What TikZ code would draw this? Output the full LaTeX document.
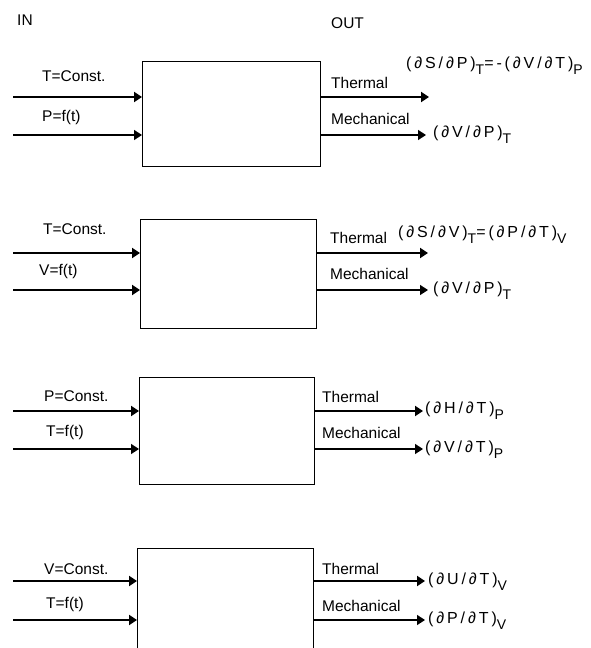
\documentclass[tikz,border=0pt]{standalone}
\usepackage{fontspec}
\setmainfont{Liberation Sans}
\newfontfamily\derivfont[LetterSpace=18]{Liberation Sans}
\usetikzlibrary{arrows.meta}
% lowered subscript as used in the derivative labels
\newcommand\lowsub[1]{\raisebox{-6pt}{\fontsize{14}{14}\selectfont #1}}
\tikzset{
  blk/.style={draw, line width=1.2pt, anchor=north west, inner sep=0pt},
  lbl/.style={font=\fontsize{15.5}{17}\selectfont, anchor=west, inner sep=0pt},
  frm/.style={font=\derivfont\fontsize{16}{18}\selectfont, anchor=west, inner sep=0pt},
  thick line/.style={line width=1.9pt, -{Triangle[length=8pt,width=10pt]}},
  thin line/.style={line width=1.4pt, -{Triangle[length=8pt,width=10pt]}},
}
\begin{document}
\begin{tikzpicture}[x=1pt,y=-1pt]
\useasboundingbox (0,0) rectangle (590,648);
\clip (0,0) rectangle (590,648);

\node[lbl] (in) at (17,20) {IN};
\node[lbl] (out) at (331,23) {OUT};

% ---- block 1 ----
\node[blk, minimum width=178pt, minimum height=105pt] (b1) at (142,61) {};
\coordinate (s1a) at (13,97);  \coordinate (s1b) at (13,135);
\coordinate (e1a) at (429,97); \coordinate (e1b) at (426,135);
\draw[thick line] (s1a) -- (s1a -| b1.west);
\draw[thin line]  (s1b) -- (s1b -| b1.west);
\draw[thick line] (b1.east |- e1a) -- (e1a);
\draw[thin line]  (b1.east |- e1b) -- (e1b);
\node[lbl] (l1a) at (42,76) {T=Const.};
\node[lbl] (l1b) at (42,117) {P=f(t)};
\node[lbl] (t1) at (331,83) {Thermal};
\node[lbl] (m1) at (331,119) {Mechanical};
\node[frm] (f1a) at (406,66) {(∂S/∂P)\lowsub{T}=-(∂V/∂T)\lowsub{P}};
\node[frm] (f1b) at (433,135) {(∂V/∂P)\lowsub{T}};

% ---- block 2 ----
\node[blk, minimum width=176pt, minimum height=109pt] (b2) at (140,219) {};
\coordinate (s2a) at (13,253);  \coordinate (s2b) at (13,290);
\coordinate (e2a) at (428,253); \coordinate (e2b) at (428,290);
\draw[thick line] (s2a) -- (s2a -| b2.west);
\draw[thick line] (s2b) -- (s2b -| b2.west);
\draw[thick line] (b2.east |- e2a) -- (e2a);
\draw[thin line]  (b2.east |- e2b) -- (e2b);
\node[lbl] (l2a) at (43,229) {T=Const.};
\node[lbl] (l2b) at (39,271) {V=f(t)};
\node[lbl] (t2) at (330,238) {Thermal};
\node[lbl] (m2) at (330,274) {Mechanical};
\node[frm] (f2a) at (398,235) {(∂S/∂V)\lowsub{T}=(∂P/∂T)\lowsub{V}};
\node[frm] (f2b) at (433,291) {(∂V/∂P)\lowsub{T}};

% ---- block 3 ----
\node[blk, minimum width=175pt, minimum height=107pt] (b3) at (139,377) {};
\coordinate (s3a) at (13,411);  \coordinate (s3b) at (13,449);
\coordinate (e3a) at (423,411); \coordinate (e3b) at (423,449);
\draw[thick line] (s3a) -- (s3a -| b3.west);
\draw[thin line]  (s3b) -- (s3b -| b3.west);
\draw[thick line] (b3.east |- e3a) -- (e3a);
\draw[thin line]  (b3.east |- e3b) -- (e3b);
\node[lbl] (l3a) at (44,396) {P=Const.};
\node[lbl] (l3b) at (46,432) {T=f(t)};
\node[lbl] (t3) at (322,397) {Thermal};
\node[lbl] (m3) at (322,433) {Mechanical};
\node[frm] (f3a) at (425,411) {(∂H/∂T)\lowsub{P}};
\node[frm] (f3b) at (425,450) {(∂V/∂T)\lowsub{P}};

% ---- block 4 (runs past the lower edge) ----
\node[blk, minimum width=176pt, minimum height=130pt] (b4) at (137,548) {};
\coordinate (s4a) at (13,581);  \coordinate (s4b) at (13,620);
\coordinate (e4a) at (425,581); \coordinate (e4b) at (425,620);
\draw[thick line] (s4a) -- (s4a -| b4.west);
\draw[thick line] (s4b) -- (s4b -| b4.west);
\draw[thick line] (b4.east |- e4a) -- (e4a);
\draw[thin line]  (b4.east |- e4b) -- (e4b);
\node[lbl] (l4a) at (44,569) {V=Const.};
\node[lbl] (l4b) at (46,604) {T=f(t)};
\node[lbl] (t4) at (322,569) {Thermal};
\node[lbl] (m4) at (322,606) {Mechanical};
\node[frm] (f4a) at (428,582) {(∂U/∂T)\lowsub{V}};
\node[frm] (f4b) at (428,621) {(∂P/∂T)\lowsub{V}};
\end{tikzpicture}
\end{document}
